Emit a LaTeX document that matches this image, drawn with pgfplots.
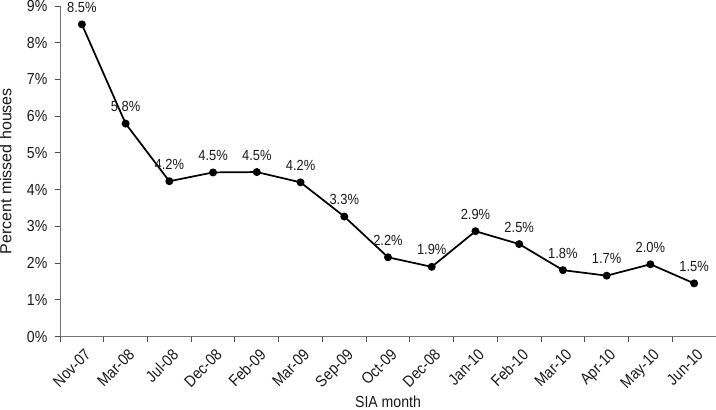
\documentclass[border=0pt]{standalone}
\usepackage{pgfplots}
\pgfplotsset{compat=1.18}
\usepackage{pgfplotstable}
\usepackage{fontspec}
\setmainfont[FakeStretch=0.88]{Liberation Sans}
\newfontfamily\uprightlab{Liberation Sans}

% percent of missed houses per SIA round, label = printed value
\pgfplotstableread{
x  y     lab
0  8.50  8.5\%
1  5.80  5.8\%
2  4.23  4.2\%
3  4.47  4.5\%
4  4.48  4.5\%
5  4.20  4.2\%
6  3.27  3.3\%
7  2.16  2.2\%
8  1.90  1.9\%
9  2.87  2.9\%
10 2.52  2.5\%
11 1.81  1.8\%
12 1.66  1.7\%
13 1.97  2.0\%
14 1.45  1.5\%
}\missed

\begin{document}
\begin{tikzpicture}
\begin{axis}[
    scale only axis,
    width=492pt, height=248pt,
    xmin=-0.5, xmax=14.5,
    ymin=0, ymax=9,
    axis lines*=left,
    axis line style={draw=black!55, line width=0.7pt},
    tick align=outside,
    font=\fontsize{12}{14}\selectfont,
    % category names sit between the tick marks
    xtick={0,...,14},
    xticklabels={Nov-07,Mar-08,Jul-08,Dec-08,Feb-09,Mar-09,Sep-09,Oct-09,Dec-08,Jan-10,Feb-10,Mar-10,Apr-10,May-10,Jun-10},
    xtick style={draw=none},
    minor xtick={-0.5,0.5,...,14.5},
    minor x tick style={draw=black!70, line width=0.7pt},
    minor tick length=4pt,
    x tick label style={rotate=45, anchor=north east, inner sep=1pt, xshift=-1pt, yshift=-3pt,
        font=\fontsize{12}{14}\selectfont},
    ytick={0,...,9},
    yticklabels={0\%,1\%,2\%,3\%,4\%,5\%,6\%,7\%,8\%,9\%},
    ytick style={draw=black!70, line width=0.7pt},
    y tick label style={xshift=-2pt},
    major tick length=4pt,
    tick label style={text=black!90},
    xlabel={SIA month},
    ylabel={Percent missed houses},
    xlabel style={at={(axis description cs:0.5,0)}, anchor=base, yshift=-53pt,
        font=\fontsize{12}{14}\selectfont, text=black!90},
    ylabel style={at={(axis description cs:-0.0742,0.5)}, anchor=base,
        font=\uprightlab\fontsize{12}{14}\selectfont, text=black!90},
    clip=false,
]
\addplot[black, line width=1.3pt, mark=*, mark size=2.3pt,
    nodes near coords, point meta=explicit symbolic,
    every node near coord/.style={anchor=base, yshift=9pt, text=black!90, font=\fontsize{11}{13}\selectfont}]
    table[x=x, y=y, meta=lab] {\missed};
\end{axis}
\pgfresetboundingbox
\path ([xshift=-45pt, yshift=-54.5pt]current axis.south west) rectangle ([yshift=4.5pt]current axis.north east);
\end{tikzpicture}
\end{document}
